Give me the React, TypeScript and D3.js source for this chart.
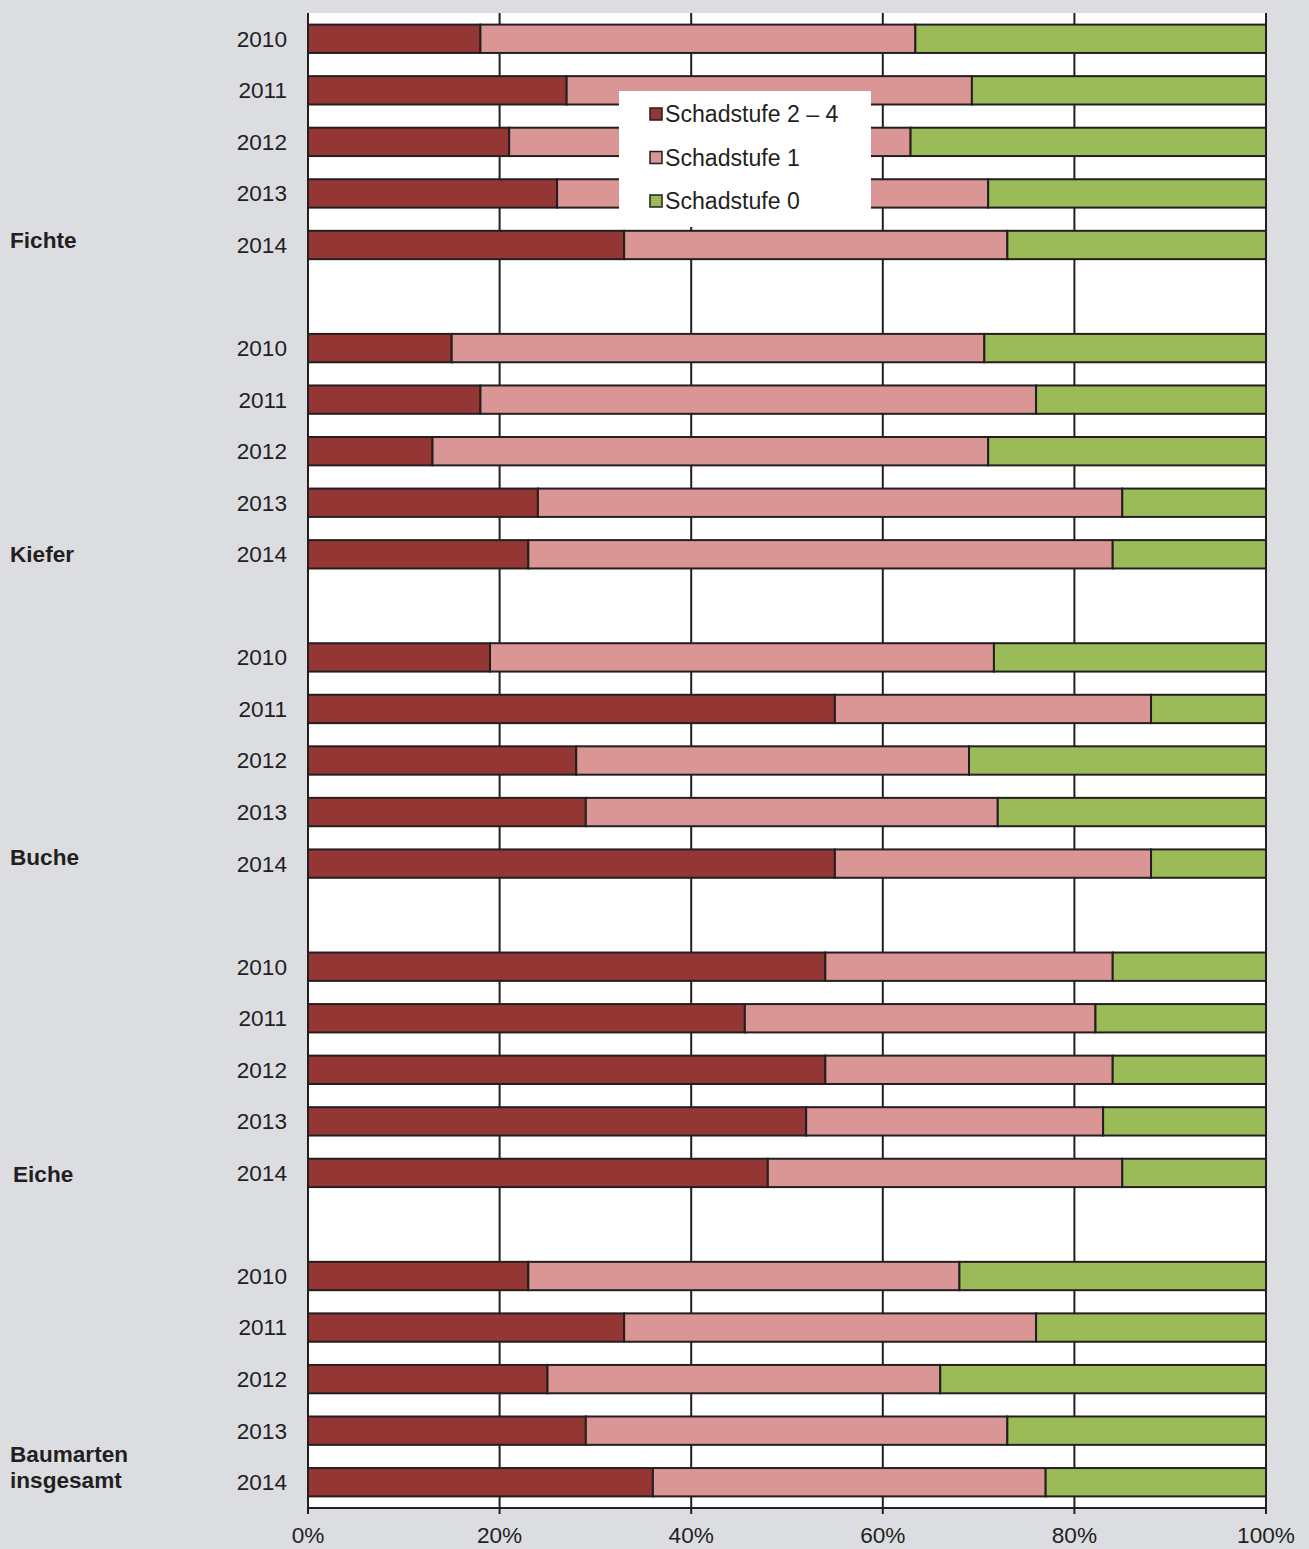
import React from 'react';
import * as d3 from 'd3';

// Kronenverlichtung nach Baumarten 2010–2014 (Anteile in %)
const groups = ['Fichte', 'Kiefer', 'Buche', 'Eiche', 'Baumarten insgesamt'];
const years = ['2010', '2011', '2012', '2013', '2014'];

const stufe24: number[][] = [
  [18, 27, 21, 26, 33],
  [15, 18, 13, 24, 23],
  [19, 55, 28, 29, 55],
  [54, 45.6, 54, 52, 48],
  [23, 33, 25, 29, 36],
];
const stufe1: number[][] = [
  [45.4, 42.3, 41.9, 45, 40],
  [55.6, 58, 58, 61, 61],
  [52.6, 33, 41, 43, 33],
  [30, 36.6, 30, 31, 37],
  [45, 43, 41, 44, 41],
];
const stufe0: number[][] = stufe24.map((g, i) => g.map((v, j) => 100 - v - stufe1[i][j]));

const seriesNames = ['Schadstufe 2 – 4', 'Schadstufe 1', 'Schadstufe 0'];
const colors = ['#943634', '#d99694', '#9bbb59'];
const xTicks = [0, 20, 40, 60, 80, 100];

const W = 1309;
const H = 1549;
const margin = { top: 13, right: 43, bottom: 41, left: 308 };
const ink = '#231f20';
const font = '"Liberation Sans", Arial, sans-serif';
const fs = 22.6;
// vertikaler Versatz der Gruppenbeschriftung gegenüber dem Balken 2014
const labelShift = [-5, 0, -7, 1, -28];

type Row = { key: string; group: number; year: number };

const rows: Row[] = [];
const slots: string[] = [];
groups.forEach((g, gi) => {
  years.forEach((y, yi) => {
    rows.push({ key: `${g}-${y}`, group: gi, year: yi });
    slots.push(`${g}-${y}`);
  });
  if (gi < groups.length - 1) slots.push(`gap-${gi}`);
});

const App: React.FC = () => {
  const x = d3.scaleLinear().domain([0, 100]).range([margin.left, W - margin.right]);
  const y = d3.scaleBand<string>().domain(slots).range([margin.top, H - margin.bottom]).paddingInner(0.45).paddingOuter(0.225);
  const bh = y.bandwidth();

  return (
    <div style={{ position: 'absolute', left: 0, top: 0 }}>
      <svg width={W} height={H} fontFamily={font} style={{ display: 'block' }}>
        <rect x={0} y={0} width={W} height={H} fill="#dcdde0" />
        <rect x={x(0)} y={margin.top} width={x(100) - x(0)} height={H - margin.bottom - margin.top} fill="#fff" />

        {/* Gitterlinien */}
        {xTicks.map(t => (
          <line key={t} x1={x(t)} x2={x(t)} y1={margin.top} y2={H - margin.bottom + 6} stroke={ink} strokeWidth={2} />
        ))}
        <line x1={x(0)} x2={x(100)} y1={H - margin.bottom} y2={H - margin.bottom} stroke={ink} strokeWidth={2} />

        {/* Balken */}
        {rows.map(r => {
          const vals = [stufe24[r.group][r.year], stufe1[r.group][r.year], stufe0[r.group][r.year]];
          let acc = 0;
          const y0 = (y(r.key) ?? 0);
          return (
            <g key={r.key}>
              {vals.map((v, i) => {
                const x0 = x(acc);
                acc += v;
                return (
                  <rect key={i} x={x0} y={y0} width={x(acc) - x0} height={bh} fill={colors[i]} stroke={ink} strokeWidth={2} />
                );
              })}
              <text x={287} y={y0 + bh / 2} dy="0.35em" textAnchor="end" fontSize={fs} fill={ink}>
                {years[r.year]}
              </text>
            </g>
          );
        })}

        {/* Gruppenbeschriftung */}
        {groups.map((g, gi) => {
          const last = y(`${g}-2014`) ?? 0;
          const lines = g === 'Baumarten insgesamt' ? ['Baumarten', 'insgesamt'] : [g];
          const baseY = last + bh / 2 + labelShift[gi];
          const lx = gi === 3 ? 13 : 10;
          return (
            <text key={g} x={lx} y={baseY} fontSize={fs} fontWeight="bold" fill={ink}>
              {lines.map((l, li) => (
                <tspan key={li} x={lx} dy={li === 0 ? '0.35em' : '1.15em'}>{l}</tspan>
              ))}
            </text>
          );
        })}

        {/* X-Achse */}
        {xTicks.map(t => (
          <text key={t} x={x(t)} y={1543} textAnchor="middle" fontSize={fs} fill={ink}>
            {t}%
          </text>
        ))}

        {/* Legende */}
        <g transform="translate(619,91)">
          <rect x={0} y={0} width={252} height={136} fill="#fff" />
          {seriesNames.map((s, i) => (
            <g key={s} transform={`translate(0,${23 + i * 43.5})`}>
              <rect x={31} y={-6} width={12} height={12} fill={colors[i]} stroke={ink} strokeWidth={1.5} />
              <text x={46} y={0} dy="0.35em" fontSize={23.1} fill={ink}>{s}</text>
            </g>
          ))}
        </g>
      </svg>
    </div>
  );
};

export default App;
